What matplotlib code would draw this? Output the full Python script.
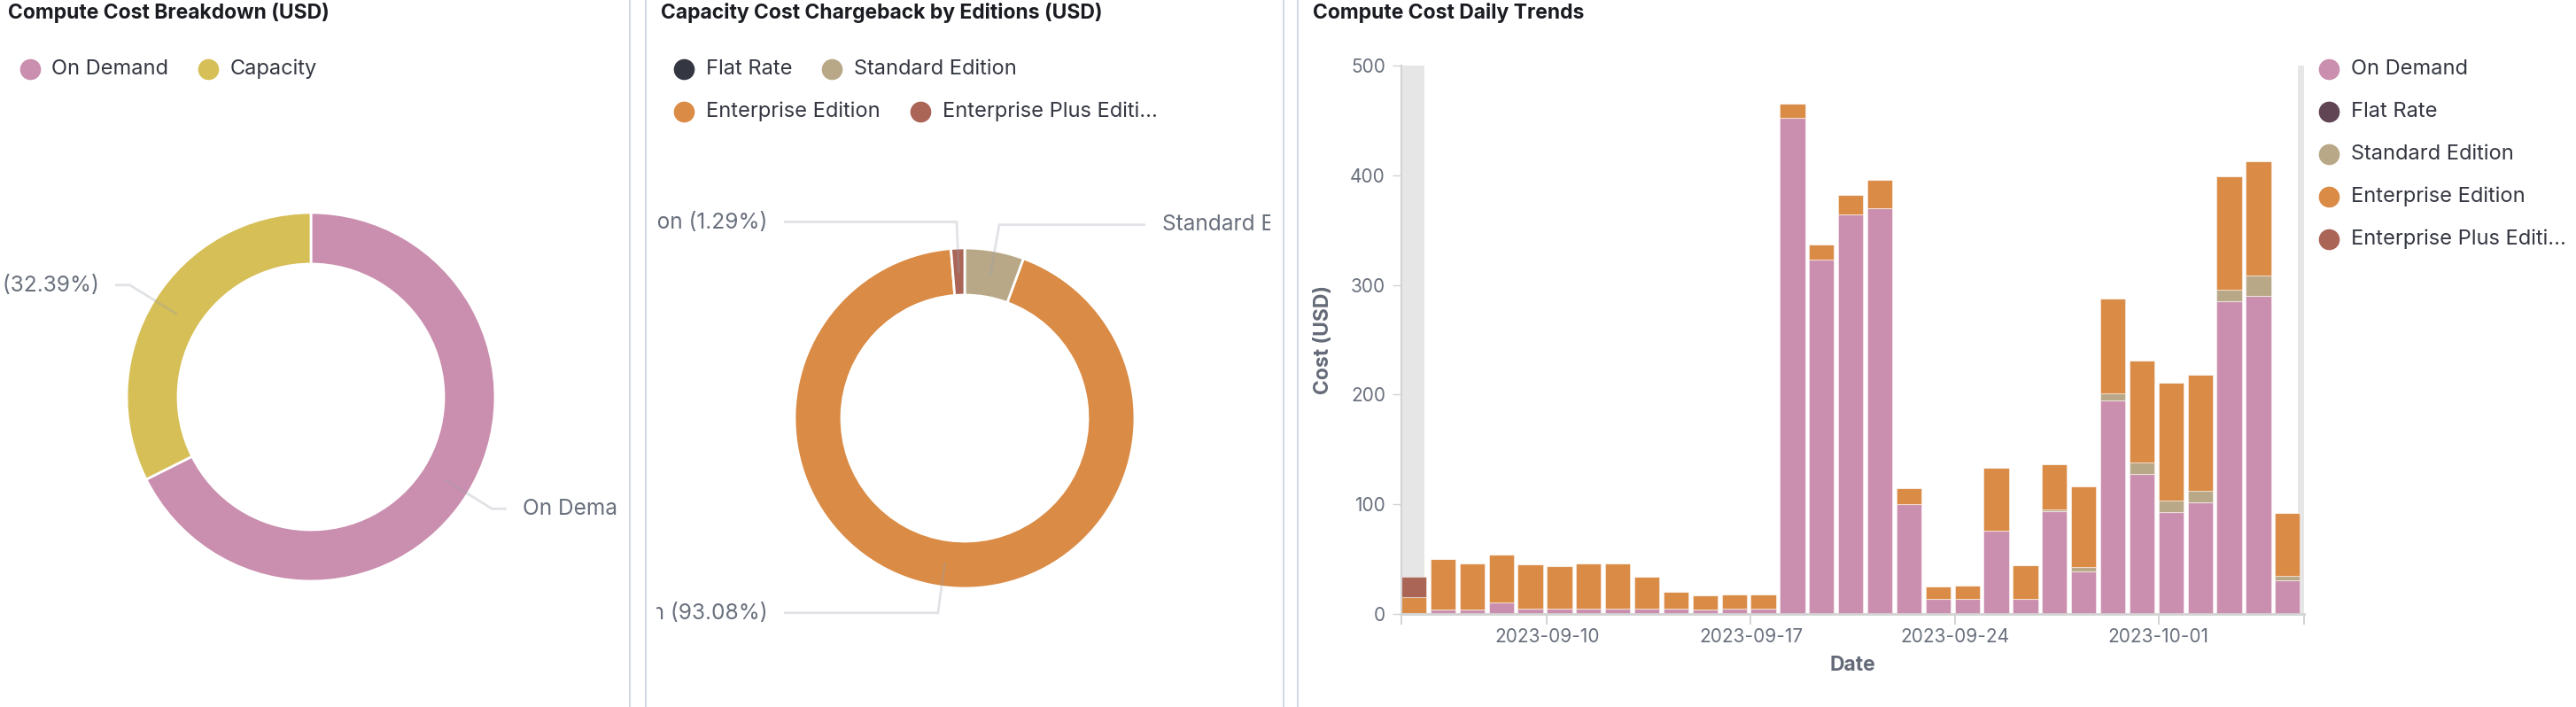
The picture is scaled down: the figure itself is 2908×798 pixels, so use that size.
"""
Compute cost dashboard: two donuts + stacked daily bar chart.
"""

import numpy as np
import pandas as pd
import matplotlib
matplotlib.use("Agg")
import matplotlib.pyplot as plt
import matplotlib.dates as mdates

plt.rcParams['font.family'] = ['Inter', 'DejaVu Sans']

W, H = 2908, 798

# ---- data ----
breakdown_labels = ["On Demand", "Capacity"]
breakdown_share = [67.61, 32.39]

edition_labels = ["Flat Rate", "Standard Edition", "Enterprise Edition", "Enterprise Plus Edition"]
edition_share = [0.0, 5.63, 93.08, 1.29]

days = pd.date_range("2023-09-05", "2023-10-05", freq="D")
on_demand = [0.5, 4.0, 4.0, 10.5, 4.6, 4.6, 4.8, 4.8, 4.6, 4.8, 4.3, 4.5, 4.6,
             452.1, 323.4, 364.0, 370.2, 100.4, 13.5, 13.5, 75.9, 13.5, 94.0,
             39.0, 195.0, 127.4, 92.6, 101.5, 285.0, 290.0, 30.4]
flat_rate = [0, 0, 0, 0, 0, 0, 0, 0, 0, 0, 0, 0, 0, 0, 0, 0,
             0, 0, 0, 0, 0, 0, 0, 0, 0, 0, 0, 0, 0, 0, 0]
standard = [0, 0, 0, 0, 0, 0, 0, 0, 0, 0, 0, 0, 0, 0, 0, 0,
            0, 0, 0, 0, 0, 0, 1.2, 3.8, 6.2, 10.7, 10.8, 10.5, 10.5, 18.6, 4.3]
enterprise = [14.5, 46.3, 42.0, 43.6, 40.6, 39.0, 41.5, 41.2, 29.3, 15.4, 12.9,
              13.0, 13.1, 12.9, 13.4, 18.1, 25.3, 14.6, 11.8, 12.6, 57.1, 30.9,
              41.0, 73.8, 86.1, 93.2, 107.4, 105.8, 103.4, 104.2, 57.1]
enterprise_plus = [19.0, 0, 0, 0, 0, 0, 0, 0, 0, 0, 0, 0, 0, 0, 0, 0,
                   0, 0, 0, 0, 0, 0, 0, 0, 0, 0, 0, 0, 0, 0, 0]

trend_labels = ["On Demand", "Flat Rate", "Standard Edition", "Enterprise Edition", "Enterprise Plus Editi..."]
xtick_dates = ["2023-09-10", "2023-09-17", "2023-09-24", "2023-10-01"]

# ---- styles ----
PINK, YELLOW = "#CA8EAE", "#D6BF57"
DARK, TAN, ORANGE, BROWN = "#343741", "#B9A888", "#DA8B45", "#AA6556"
FLAT_TREND = "#614555"
TITLE_C, LEGEND_C, LABEL_C = "#1A1C21", "#343741", "#69707D"
BORDER_C, AXIS_C = "#D3DAE6", "#D3D3D3"

fig = plt.figure(figsize=(W / 100, H / 100), dpi=100)

# overlay in pixel coordinates (y down) for titles, legends, panel borders
ov = fig.add_axes([0, 0, 1, 1])
ov.set_xlim(0, W)
ov.set_ylim(H, 0)
ov.axis("off")

for bx in (711, 729, 1449, 1465):
    ov.plot([bx, bx], [0, H], color=BORDER_C, lw=1.5)

for tx, title in ((9, "Compute Cost Breakdown (USD)"),
                  (746, "Capacity Cost Chargeback by Editions (USD)"),
                  (1482, "Compute Cost Daily Trends")):
    ov.text(tx, 14, title, fontsize=16.5, fontweight="bold", color=TITLE_C,
            ha="left", va="center")


def legend_item(x, y, label, color):
    ov.scatter([x], [y], s=290, color=color, lw=0)
    ov.text(x + 25, y, label, fontsize=17, color=LEGEND_C, ha="left", va="center")


legend_item(33.5, 78, breakdown_labels[0], PINK)
legend_item(235, 78, breakdown_labels[1], YELLOW)
legend_item(772, 78, "Flat Rate", DARK)
legend_item(938.5, 78, "Standard Edition", TAN)
legend_item(772, 126, "Enterprise Edition", ORANGE)
legend_item(1038.5, 126, "Enterprise Plus Editi...", BROWN)
for i, (lab, col) in enumerate(zip(trend_labels, [PINK, FLAT_TREND, TAN, ORANGE, BROWN])):
    legend_item(2629, 78 + 48 * i, lab, col)


def donut_panel(x0, x1, cx, cy, r_out, r_in, shares, colors, names):
    ax = fig.add_axes([x0 / W, 0, (x1 - x0) / W, 1])
    cyu = H - cy
    wedges, _ = ax.pie(shares, colors=colors, startangle=90, counterclock=False,
                       radius=r_out, center=(cx, cyu),
                       wedgeprops=dict(width=r_out - r_in, edgecolor="white", linewidth=2))
    ax.set_aspect("auto")
    ax.set_xlim(x0, x1)
    ax.set_ylim(0, H)
    ax.axis("off")
    rm = (r_out + r_in) / 2
    for w, name, share in zip(wedges, names, shares):
        if share <= 0:
            continue
        th = np.deg2rad((w.theta1 + w.theta2) / 2)
        sx, sy = cx + rm * np.cos(th), cyu + rm * np.sin(th)
        ex, ey = cx + 1.155 * r_out * np.cos(th), cyu + 1.155 * r_out * np.sin(th)
        side = 1 if np.cos(th) >= 0 else -1
        hx = cx + side * 1.055 * r_out
        ax.plot([sx, ex, hx], [sy, ey, ey], color="#9AA1AD", alpha=0.3, lw=2,
                solid_joinstyle="miter", clip_on=True)
        ax.text(hx + side * 20, ey, f"{name} ({share:.2f}%)", fontsize=17.6,
                color=LABEL_C, ha="left" if side > 0 else "right", va="center",
                clip_on=True)
    return ax


donut_panel(0, 696, 351, 448, 208, 150, breakdown_share, [PINK, YELLOW], breakdown_labels)
donut_panel(741, 1434, 1089, 472, 192, 139, edition_share,
            [DARK, TAN, ORANGE, BROWN], edition_labels)

# ---- daily trend stacked bars ----
ax = fig.add_axes([1582 / W, (H - 693) / H, (2601 - 1582) / W, (693 - 74) / H])
x = mdates.date2num(days.to_pydatetime())
x_start, x_end = x[0], x[-1] + 1
ax.axvspan(x_start, x_start + 19 / 24, color="#E6E6E6", lw=0, zorder=1)
ax.axvspan(x_end - 5 / 24, x_end, color="#E6E6E6", lw=0, zorder=1)

bottom = np.zeros(len(x))
for vals, col in zip([on_demand, flat_rate, standard, enterprise, enterprise_plus],
                     [PINK, FLAT_TREND, TAN, ORANGE, BROWN]):
    vals = np.asarray(vals, dtype=float)
    ax.bar(x, vals, width=0.86, bottom=bottom, align="edge", color=col,
           edgecolor=(1, 1, 1, 0.45), linewidth=0.8, zorder=2)
    bottom += vals

ax.set_xlim(x_start, x_end)
ax.set_ylim(0, 500)
ax.set_yticks([0, 100, 200, 300, 400, 500])
tick_pos = [x_start] + [mdates.date2num(pd.Timestamp(d).to_pydatetime()) for d in xtick_dates] + [x_end]
ax.set_xticks(tick_pos)
ax.set_xticklabels([""] + xtick_dates + [""])

for s in ("top", "right"):
    ax.spines[s].set_visible(False)
ax.spines["left"].set_color(AXIS_C)
ax.spines["left"].set_linewidth(1.5)
ax.spines["bottom"].set_color(AXIS_C)
ax.spines["bottom"].set_linewidth(2)
ax.tick_params(axis="y", length=7, width=1, color=AXIS_C, labelcolor=LABEL_C,
               labelsize=15, pad=6)
ax.tick_params(axis="x", length=8.5, width=1.4, color=AXIS_C, labelcolor=LABEL_C,
               labelsize=15, pad=3)
ax.set_xlabel("Date", fontsize=16.5, fontweight="bold", color="#646A77", labelpad=8)
ax.set_ylabel("Cost (USD)", fontsize=16.5, fontweight="bold", color="#646A77", labelpad=14)

fig.savefig("out.png", dpi=100)
